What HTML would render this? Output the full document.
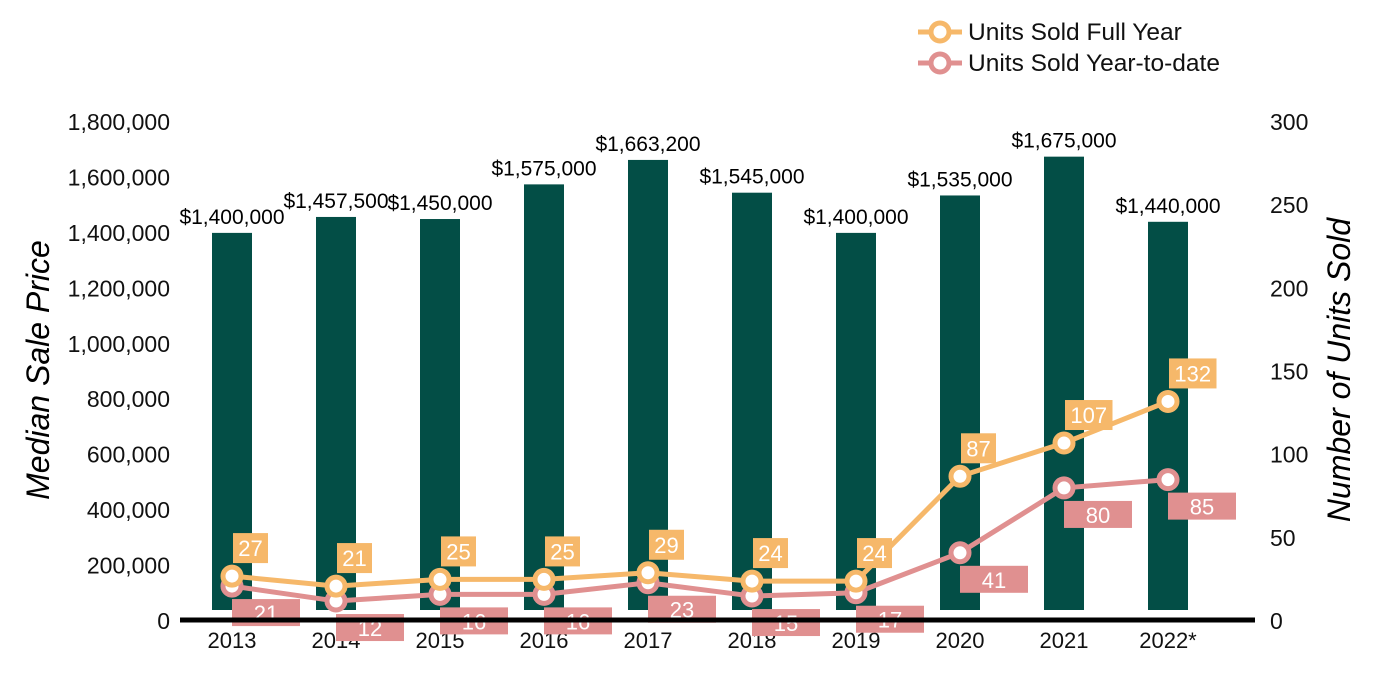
<!DOCTYPE html>
<html><head><meta charset="utf-8"><style>
body{margin:0;background:#fff;}
svg{display:block;font-family:"Liberation Sans",Arial,sans-serif;}
</style></head><body>
<svg id="c" width="1400" height="700"></svg>
<script>
const years=["2013","2014","2015","2016","2017","2018","2019","2020","2021","2022*"];
const prices=[1400000,1457500,1450000,1575000,1663200,1545000,1400000,1535000,1675000,1440000];
const priceLabels=["$1,400,000","$1,457,500","$1,450,000","$1,575,000","$1,663,200","$1,545,000","$1,400,000","$1,535,000","$1,675,000","$1,440,000"];
const fullYear=[27,21,25,25,29,24,24,87,107,132];
const ytd=[21,12,16,16,23,15,17,41,80,85];
const leftTicks=[0,200000,400000,600000,800000,1000000,1200000,1400000,1600000,1800000];
const rightTicks=[0,50,100,150,200,250,300];

const svg=document.getElementById('c');
const NS='http://www.w3.org/2000/svg';
const Y0=621,Y1=122;
const xS=i=>232+i*104;
const yL=v=>Y0-v/1800000*(Y0-Y1);
const yR=v=>Y0-v/300*(Y0-Y1);
function mk(t,a,txt){const e=document.createElementNS(NS,t);for(const k in a)e.setAttribute(k,a[k]);if(txt!==undefined)e.textContent=txt;svg.appendChild(e);return e;}
const fmt=n=>n.toLocaleString('en-US');

leftTicks.forEach(v=>{const e=mk('text',{x:170,y:yL(v)+8,'text-anchor':'end','font-size':23,fill:'#111'},fmt(v));

});
rightTicks.forEach(v=>{const e=mk('text',{x:1270,y:yR(v)+8,'font-size':23,fill:'#111'},String(v));

});

let t=mk('text',{x:0,y:0,transform:'translate(49,370) rotate(-90)','text-anchor':'middle','font-size':32,'font-style':'italic',fill:'#000'},'Median Sale Price');


t=mk('text',{x:0,y:0,transform:'translate(1350,370) rotate(-90)','text-anchor':'middle','font-size':32,'font-style':'italic',fill:'#000'},'Number of Units Sold');



prices.forEach((p,i)=>{
 const b=mk('rect',{x:xS(i)-20,y:yL(p),width:40,height:610-yL(p),fill:'#034e46'});
 
 
 const l=mk('text',{x:xS(i),y:yL(p)-9,'text-anchor':'middle','font-size':21,fill:'#000'},priceLabels[i]);
 
 
 const yl=mk('text',{x:xS(i),y:648,'text-anchor':'middle','font-size':22,fill:'#111'},years[i]);
 
 
});

function series(vals,color,name){
 const pl=mk('polyline',{points:vals.map((v,i)=>xS(i)+','+yR(v)).join(' '),fill:'none',stroke:color,'stroke-width':5});
 
 
 vals.forEach((v,i)=>{const c=mk('circle',{cx:xS(i),cy:yR(v),r:9,fill:'#fff',stroke:color,'stroke-width':5});
 
 });
}
series(ytd,'#e09090','ytd');
series(fullYear,'#f6b86a','full-year');

ytd.forEach((v,i)=>{const x=xS(i),y=yR(v);
 const r=mk('rect',{x:x,y:y+13,width:68,height:27,fill:'#e09090'});
 
 
 const tx=mk('text',{x:x+34,y:y+35,'text-anchor':'middle','font-size':22,fill:'#fff'},String(v));
 
 });
fullYear.forEach((v,i)=>{const x=xS(i),y=yR(v);const w=String(v).length*12.5+10;
 const r=mk('rect',{x:x+1,y:y-43,width:w,height:30,fill:'#f6b86a'});
 
 
 const tx=mk('text',{x:x+1+w/2,y:y-20,'text-anchor':'middle','font-size':22,fill:'#fff'},String(v));
 
 });

const ax=mk('line',{x1:180,y1:620,x2:1255,y2:620,stroke:'#000','stroke-width':5});



[['#f6b86a','Units Sold Full Year',32],['#e09090','Units Sold Year-to-date',63]].forEach(([c,txt,y])=>{
 const g=document.createElementNS(NS,'g');svg.appendChild(g);
 
 
 const l=document.createElementNS(NS,'line');
 [['x1',918],['y1',y],['x2',962],['y2',y],['stroke',c],['stroke-width',5]].forEach(([k,v])=>l.setAttribute(k,v));g.appendChild(l);
 const ci=document.createElementNS(NS,'circle');
 [['cx',940],['cy',y],['r',9],['fill','#fff'],['stroke',c],['stroke-width',5]].forEach(([k,v])=>ci.setAttribute(k,v));g.appendChild(ci);
 const tx=document.createElementNS(NS,'text');
 [['x',968],['y',y+8],['font-size',24.5],['fill','#111']].forEach(([k,v])=>tx.setAttribute(k,v));tx.textContent=txt;g.appendChild(tx);
});
</script>
</body></html>
